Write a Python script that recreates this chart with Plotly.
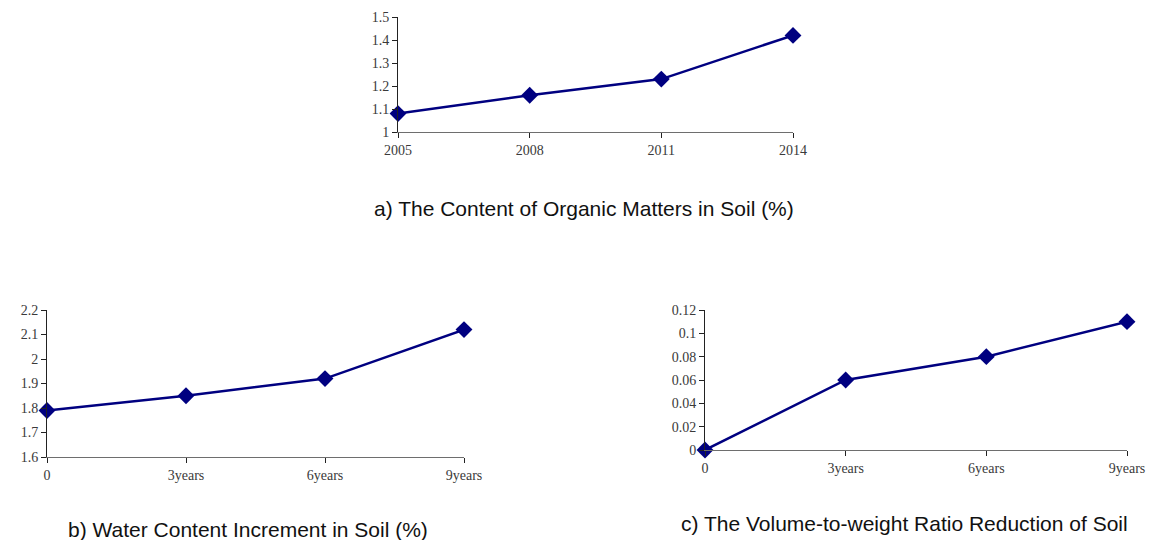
import plotly.graph_objects as go

# Panel a: organic matter content by year
years_a = ["2005", "2008", "2011", "2014"]
organic_matter = [1.08, 1.16, 1.23, 1.42]
ticks_a = [1.0, 1.1, 1.2, 1.3, 1.4, 1.5]

# Panel b: water content increment
periods = ["0", "3years", "6years", "9years"]
water_increment = [1.79, 1.85, 1.92, 2.12]
ticks_b = [1.6, 1.7, 1.8, 1.9, 2.0, 2.1, 2.2]

# Panel c: volume-to-weight ratio reduction
ratio_reduction = [0.0, 0.06, 0.08, 0.11]
ticks_c = [0, 0.02, 0.04, 0.06, 0.08, 0.10, 0.12]

titles = [
    "a) The Content of Organic Matters in Soil (%)",
    "b) Water Content Increment in Soil (%)",
    "c) The Volume-to-weight Ratio Reduction of Soil",
]

W, H = 1154, 540
LINE = "#000080"
TICK_FONT = dict(family="Liberation Serif", size=14, color="#3a3a3a")


def px_x(a, b):
    return [a / W, b / W]


def px_y(top, bottom):
    return [1 - bottom / H, 1 - top / H]


panels = [
    dict(x=years_a, y=organic_matter, ticks=ticks_a, rng=[1.0, 1.5],
         xd=px_x(398, 793), yd=px_y(17, 132)),
    dict(x=periods, y=water_increment, ticks=ticks_b, rng=[1.6, 2.2],
         xd=px_x(47, 464), yd=px_y(310, 457)),
    dict(x=periods, y=ratio_reduction, ticks=ticks_c, rng=[0, 0.12],
         xd=px_x(705, 1127), yd=px_y(310, 450)),
]

fig = go.Figure()
layout = {}
for i, p in enumerate(panels, start=1):
    sx = "" if i == 1 else str(i)
    fig.add_trace(go.Scatter(
        x=p["x"], y=p["y"], mode="lines+markers",
        line=dict(color=LINE, width=2.5),
        marker=dict(symbol="diamond", size=13, color=LINE),
        cliponaxis=False, showlegend=False,
        xaxis="x" + sx, yaxis="y" + sx,
    ))
    labels = [("%g" % t) for t in p["ticks"]]
    layout["xaxis" + sx] = dict(
        domain=p["xd"], anchor="y" + sx, type="category",
        range=[0, len(p["x"]) - 1], showline=True, linecolor="#6e6e6e",
        linewidth=1, ticks="outside", ticklen=5, tickcolor="#222222",
        showgrid=False, zeroline=False, tickfont=TICK_FONT,
        automargin=False,
    )
    layout["yaxis" + sx] = dict(
        domain=p["yd"], anchor="x" + sx, range=p["rng"],
        tickvals=p["ticks"], ticktext=labels,
        showline=True, linecolor="#222222", linewidth=1,
        ticks="outside", ticklen=5, tickcolor="#222222",
        showgrid=False, zeroline=False, tickfont=TICK_FONT,
        automargin=False,
    )

fig.update_layout(
    width=W, height=H, margin=dict(l=0, r=0, t=0, b=0),
    paper_bgcolor="white", plot_bgcolor="white",
    **layout,
)

title_pos = [(584, 208), (248, 529), (904, 523)]
for text, (cx, cy) in zip(titles, title_pos):
    fig.add_annotation(
        text=text, x=cx / W, y=1 - cy / H, xref="paper", yref="paper",
        xanchor="center", yanchor="middle", showarrow=False,
        font=dict(family="Liberation Sans", size=21, color="#111111"),
    )

fig.write_html("out.html")
